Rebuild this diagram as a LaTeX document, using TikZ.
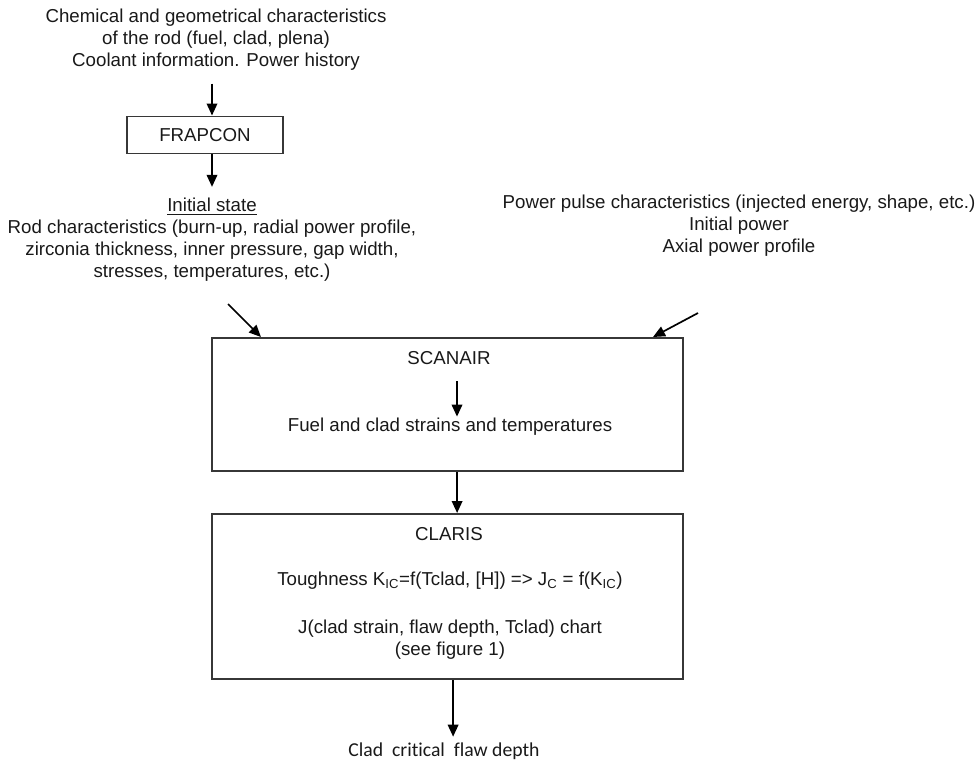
\documentclass[tikz,border=0pt]{standalone}
\usepackage{fontspec}
\setmainfont{Liberation Sans}
\newfontfamily\outfont[Ligatures=NoCommon]{Carlito}
\usepackage{tikz}
\usetikzlibrary{arrows.meta,positioning,calc}
\definecolor{boxgray}{RGB}{55,55,55}
\definecolor{textgray}{RGB}{25,25,25}

\begin{document}
\begin{tikzpicture}[x=0.025cm, y=-0.025cm,
    every node/.style={font=\fontsize{13.3}{15.6}\selectfont, text=textgray, inner sep=1pt},
    progbox/.style={draw=boxgray, line width=1.4pt, inner sep=0pt},
    flow/.style={-{Triangle[length=8.5pt,width=7.5pt]}, line width=1.2pt, black}]
        \useasboundingbox (0,0) rectangle (978,762);

        % FRAPCON stage
        \node[align=center] (rodinput) at (216,40)
          {Chemical and geometrical characteristics\\
           of the rod (fuel, clad, plena)\\
           Coolant information. Power history};
        \node[progbox, minimum width=3.9cm, minimum height=0.925cm] (frapcon) at (205,135) {FRAPCON};
        \node[align=center] (initstate) at (212,240)
          {\underline{Initial state}\\
           Rod characteristics (burn-up, radial power profile,\\
           zirconia thickness, inner pressure, gap width,\\
           stresses, temperatures, etc.)};
        \draw[flow, shorten <=8pt] (rodinput.south -| 212,0) -- (frapcon.north -| 212,0);
        \draw[flow, shorten >=7pt] (frapcon.south -| 212,0) -- (initstate.north -| 212,0);

        % pulse data
        \node[align=center] (pulse) at (739,226)
          {Power pulse characteristics (injected energy, shape, etc.)\\
           Initial power\\
           Axial power profile};

        % SCANAIR box
        \node[progbox, minimum width=11.775cm, minimum height=3.325cm] (scanair) at (447.5,404.5) {};
        \node (scantitle) at (449,358) {SCANAIR};
        \node (strains) at (450,427) {Fuel and clad strains and temperatures};
        \coordinate (s1) at (457,381);
        \draw[flow] (s1) -- (s1 |- strains.north);

        \coordinate (lin) at (228,304);
        \coordinate (rin) at (698,313);
        \draw[flow] (lin) -- ([xshift=1.25cm]scanair.north west);
        \draw[flow] (rin) -- ([xshift=-0.775cm]scanair.north east);

        % CLARIS box
        \node[progbox, minimum width=11.775cm, minimum height=4.125cm] (claris) at (447.5,596.5) {};
        \node (claristitle) at (449,534) {CLARIS};
        \node (tough) at (450,581)
          {Toughness K\textsubscript{IC}=f(Tclad, [H]) => J\textsubscript{C} = f(K\textsubscript{IC})};
        \node[align=center] (jchart) at (450,640)
          {J(clad strain, flaw depth, Tclad) chart\\(see figure 1)};
        \draw[flow] ([xshift=0.24cm]scanair.south) -- ([xshift=0.24cm]claris.south |- claris.north);

        % result
        \node[font=\outfont\fontsize{14}{16}\selectfont] (flaw) at (444,751)
          {Clad\ \ crit\kern0pt ical\ \ flaw depth};
        \draw[flow, shorten >=3pt] ([xshift=0.14cm]claris.south) -- ([xshift=0.14cm]claris.south |- flaw.north);
      \end{tikzpicture}
\end{document}
